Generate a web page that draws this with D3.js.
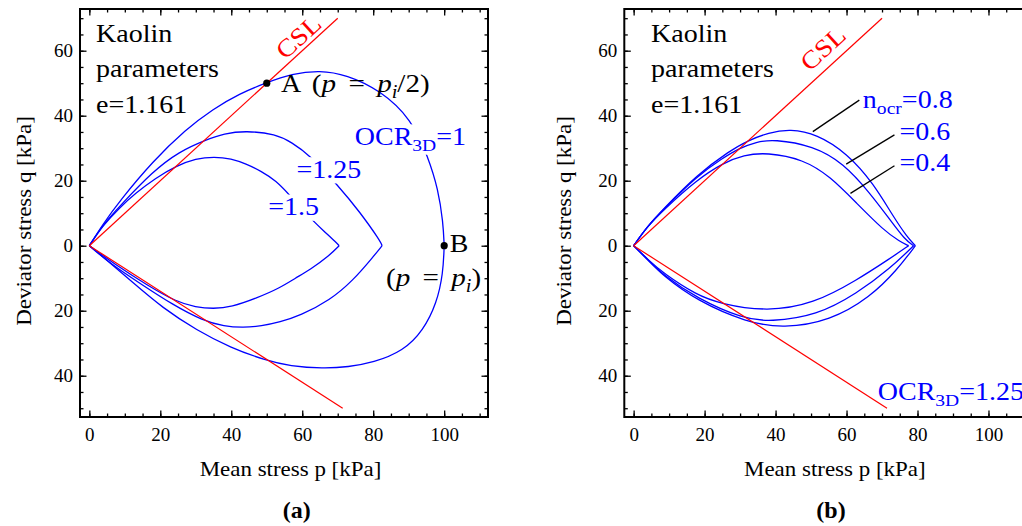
<!DOCTYPE html>
<html>
<head>
<meta charset="utf-8">
<script src="https://cdn.jsdelivr.net/npm/d3@7"></script>
<style>
  body { margin: 0; background: #fff; }
  svg { display: block; }
  text { font-family: "Liberation Serif", "Times New Roman", serif; }
</style>
</head>
<body>
<svg id="chart" width="1022" height="526"></svg>
<script>
// ---- data (p, q in kPa; q < 0 is extension) ----
const pTicks = [0, 20, 40, 60, 80, 100];
const qTicks = [-40, -20, 0, 20, 40, 60];
const pMinorTicks = d3.range(0, 111, 5);
const qMinorTicks = d3.range(-50, 71, 5);

const cslCompression = [[0, 0], [70, 70]];
const cslExtension = [[0, 0], [71.4, -50]];
const pointA = [50, 50];
const pointB = [100, 0];

// panel (a): OCR_3D = 1, 1.25, 1.5
const ocr100Upper = [[0, 0], [3.8, 6.6], [8.5, 13.7], [17.9, 26], [27.2, 35.8], [34.8, 42], [42.3, 46.8], [50, 50.2], [57, 52.9], [65, 54], [72.5, 52.6], [81.9, 47.9], [90.8, 39], [95.5, 27.2], [98.3, 17.4], [99.7, 7.2], [100, 0]];
const ocr100Lower = [[0, 0], [4.9, -4.4], [11.5, -10.6], [20.8, -19.3], [30.3, -26], [39.6, -31.3], [50, -35.4], [56.5, -37], [65.9, -37.8], [73, -37.3], [80, -36], [88.5, -32.4], [94.1, -26.1], [97.9, -17.7], [99.7, -8.5], [100, 0]];
const ocr125Upper = [[0, 0], [3.8, 6.4], [8.5, 12.1], [17.9, 22.9], [25.4, 29], [32.7, 32.5], [38, 34.5], [44.1, 35.4], [52.6, 34.3], [57, 31.8], [62.2, 27.8], [70.1, 18.5], [76.3, 10.3], [81.9, 1.6], [82.5, 0]];
const ocr125Lower = [[0, 0], [5.8, -5.4], [14.3, -11.6], [23.7, -18.3], [32.1, -23.1], [38, -24.8], [43.4, -25.2], [48.5, -24.7], [53.7, -23.5], [59.4, -21.5], [67.8, -16.8], [74.4, -10.6], [80, -3.4], [82.5, 0]];
const ocr150Upper = [[0, 0], [3.8, 6.2], [8.5, 11.7], [13.2, 16.3], [18.5, 20.7], [24.6, 24.6], [30, 26.8], [35.2, 27.4], [40, 26.8], [44.1, 25.2], [48.5, 22.9], [52.6, 20], [56.5, 15.5], [60, 11.2], [63.1, 7.6], [65.9, 4.7], [69.7, 0.9], [70.4, 0]];
const ocr150Lower = [[0, 0], [6.8, -5.4], [16.2, -12.1], [24.6, -17.3], [30, -18.9], [34.9, -19.4], [40, -18.9], [47.2, -16.1], [53.7, -13], [58, -10], [62.2, -7.4], [67.8, -2.9], [70.4, 0]];

// panel (b): OCR_3D = 1.25, n_ocr = 0.8, 0.6, 0.4
const n08Upper = [[0, 0], [3.8, 5.9], [8.4, 11.3], [17.8, 21.8], [27.2, 29.3], [32.3, 32.4], [38, 34.8], [44.1, 35.9], [51.6, 34.4], [60.1, 28.5], [67.6, 19.2], [73.2, 8.9], [77, 2.8], [79.4, 0]];
const n08Lower = [[0, 0], [4.2, -4.6], [8.4, -9.3], [17.8, -16.9], [31.9, -23.6], [42.2, -25.4], [55.4, -23.1], [66.7, -15.8], [74.2, -7.5], [79.4, 0]];
const n06Upper = [[0, 0], [3.8, 5.9], [8.4, 11.2], [17.8, 21.4], [25, 26.9], [30, 30.1], [34.5, 31.9], [39.4, 32.8], [50.7, 30.7], [59.1, 25.4], [66.7, 16.1], [72.3, 7.9], [76.5, 1.8], [78.9, 0]];
const n06Lower = [[0, 0], [4.2, -4.5], [8.4, -9.0], [17.8, -16.2], [30.9, -22.5], [38.4, -23.4], [51.6, -21.5], [62.9, -14.7], [72.3, -7], [78.9, 0]];
const n04Upper = [[0, 0], [3.8, 5.8], [8.4, 11], [17.8, 20.3], [25.3, 25.5], [31, 27.9], [37.5, 28.7], [47.8, 26.6], [55.4, 21.3], [62.9, 13], [70.4, 4.8], [75.1, 1.2], [77.5, 0]];
const n04Lower = [[0, 0], [4.2, -4.4], [8.4, -8.5], [17.8, -15.2], [24.3, -17.8], [37.5, -20.3], [50.7, -17.9], [62.9, -10.6], [72.3, -3.9], [77.5, 0]];

// ---- layout ----
const frameSize = 408;
const pDomain = [-2.63, 112.35];
const qDomain = [-52.7, 72.83];
const annSize = 25;
const stretch = 1.12;
const BLUE = '#0000ff';
const RED = '#ff0000';

const kaolinLines = ['Kaolin', 'parameters', 'e=1.161'];

const panels = [
  {
    id: 'a',
    left: 80,
    top: 9,
    curves: [ocr100Upper, ocr100Lower, ocr125Upper, ocr125Lower, ocr150Upper, ocr150Lower],
    dots: [pointA, pointB],
    leaders: [],
    kaolinAt: 1.9,
    cslLabelAt: [58.9, 64.3],
    yTitleOffset: 49,
    xTitleShift: 6.5,
    letterShift: 12.7,
    labels: [
      { at: [54, 47.4], parts: [{ t: 'A' }] },
      { at: [62.7, 47.4], math: true, parts: [{ t: '(' }, { t: 'p', italic: true }, { t: '=', dx: 11 }, { t: 'p', italic: true, dx: 11 }, { t: 'i', italic: true, sub: true }, { t: '/2)' }] },
      { at: [101.6, -2], parts: [{ t: 'B' }] },
      { at: [83.6, -12.5], math: true, parts: [{ t: '(' }, { t: 'p', italic: true }, { t: '=', dx: 11 }, { t: 'p', italic: true, dx: 11 }, { t: 'i', italic: true, sub: true }, { t: ')' }] },
      { at: [74.8, 31], color: BLUE, knockout: true, parts: [{ t: 'OCR' }, { t: '3D', sub: true }, { t: '=1' }] },
      { at: [58.4, 20.9], color: BLUE, knockout: true, parts: [{ t: '=1.25' }] },
      { at: [50.4, 9.4], color: BLUE, knockout: true, parts: [{ t: '=1.5' }] }
    ]
  },
  {
    id: 'b',
    left: 624.3,
    top: 9,
    curves: [n08Upper, n08Lower, n06Upper, n06Lower, n04Upper, n04Lower],
    dots: [],
    leaders: [[[63.6, 44.8], [50.5, 35.1]], [[73.5, 34.1], [59.9, 25.1]], [[73.5, 24.6], [61.1, 16.1]]],
    kaolinAt: 4.9,
    cslLabelAt: [53.3, 60.7],
    yTitleOffset: 53,
    xTitleShift: 6.5,
    letterShift: 2.7,
    labels: [
      { at: [64.6, 42.3], color: BLUE, parts: [{ t: 'n' }, { t: 'ocr', sub: true }, { t: '=0.8' }] },
      { at: [74.9, 32.5], color: BLUE, parts: [{ t: '=0.6' }] },
      { at: [74.9, 23.1], color: BLUE, parts: [{ t: '=0.4' }] },
      { at: [68.8, -47.4], color: BLUE, parts: [{ t: 'OCR' }, { t: '3D', sub: true }, { t: '=1.25' }] }
    ]
  }
];

const svg = d3.select('#chart');
const defs = svg.append('defs');

function addLabel(g, px, py, parts, opt = {}) {
  const size = opt.size || annSize;
  const holder = g.append('g')
    .attr('transform', `translate(${px},${py}) rotate(${opt.angle || 0}) scale(${stretch},1)`);
  const text = holder.append('text')
    .attr('font-size', size)
    .attr('fill', opt.color || '#000')
    .attr('text-anchor', opt.anchor || 'start');
  if (opt.dy) text.attr('dy', opt.dy);
  let shifted = false;
  parts.forEach(part => {
    const span = text.append('tspan').text(part.t);
    let dy = 0;
    if (part.sub) {
      span.attr('font-size', size * 0.7);
      if (!shifted) dy = 6;
      shifted = true;
    } else if (shifted) {
      dy = -6;
      shifted = false;
    }
    if (dy) span.attr('dy', dy);
    if (part.dx) span.attr('dx', part.dx);
    if (part.italic) span.attr('font-style', 'italic');
  });
  if (opt.knockout) {
    const box = text.node().getBBox();
    holder.insert('rect', 'text')
      .attr('x', box.x - 1).attr('y', box.y + 2)
      .attr('width', box.width + 2).attr('height', box.height - 2)
      .attr('fill', '#fff');
  }
  return holder;
}

function drawFrame(g, x, y) {
  const styleTicks = sel => {
    sel.select('.domain').remove();
    sel.selectAll('line').attr('stroke', '#000').attr('stroke-width', 1.3);
    sel.selectAll('text')
      .attr('font-size', 19)
      .attr('fill', '#000');
    sel.attr('font-family', null).attr('font-size', null);
  };
  const none = () => '';
  const sides = [
    { make: d3.axisBottom(x), at: `translate(0,${frameSize})`, major: pTicks, minor: pMinorTicks, fmt: d3.format('d'), pad: 10.5 },
    { make: d3.axisTop(x), at: 'translate(0,0)', major: pTicks, minor: pMinorTicks, fmt: none, pad: 0 },
    { make: d3.axisLeft(y), at: 'translate(0,0)', major: qTicks, minor: qMinorTicks, fmt: d => Math.abs(d), pad: 7 },
    { make: d3.axisRight(y), at: `translate(${frameSize},0)`, major: qTicks, minor: qMinorTicks, fmt: none, pad: 0 }
  ];
  sides.forEach(side => {
    g.append('g').attr('transform', side.at)
      .call(side.make.tickValues(side.minor).tickSize(-3.5).tickSizeOuter(0).tickFormat(none))
      .call(styleTicks);
    g.append('g').attr('transform', side.at)
      .call(side.make.tickValues(side.major).tickSize(-6.5).tickSizeOuter(0).tickPadding(side.pad).tickFormat(side.fmt))
      .call(styleTicks);
  });
  g.append('rect')
    .attr('width', frameSize).attr('height', frameSize)
    .attr('fill', 'none').attr('stroke', '#000').attr('stroke-width', 2);
}

function drawPanel(panel) {
  const x = d3.scaleLinear().domain(pDomain).range([0, frameSize]);
  const y = d3.scaleLinear().domain(qDomain).range([frameSize, 0]);
  const g = svg.append('g').attr('transform', `translate(${panel.left},${panel.top})`);

  defs.append('clipPath').attr('id', `clip-${panel.id}`)
    .append('rect').attr('width', frameSize).attr('height', frameSize);
  const plot = g.append('g').attr('clip-path', `url(#clip-${panel.id})`);

  const curveLine = d3.line().x(d => x(d[0])).y(d => y(d[1])).curve(d3.curveBasis);
  const straight = d3.line().x(d => x(d[0])).y(d => y(d[1]));

  plot.selectAll('path.yield')
    .data(panel.curves)
    .join('path')
    .attr('class', 'yield')
    .attr('d', curveLine)
    .attr('fill', 'none').attr('stroke', BLUE).attr('stroke-width', 1.3);

  plot.selectAll('path.csl')
    .data([cslCompression, cslExtension])
    .join('path')
    .attr('class', 'csl')
    .attr('d', straight)
    .attr('fill', 'none').attr('stroke', RED).attr('stroke-width', 1.2);

  plot.selectAll('path.leader')
    .data(panel.leaders)
    .join('path')
    .attr('class', 'leader')
    .attr('d', straight)
    .attr('stroke', '#000').attr('stroke-width', 1.3);

  // Kaolin text block
  const kaolinBaselines = [62.77, 51.8, 40.7];
  kaolinLines.forEach((line, i) => {
    addLabel(plot, x(panel.kaolinAt), y(kaolinBaselines[i]), [{ t: line }]);
  });

  // CSL label along the line
  const angle = Math.atan2(y(cslCompression[1][1]) - y(0), x(cslCompression[1][0]) - x(0)) * 180 / Math.PI;
  addLabel(plot, x(panel.cslLabelAt[0]), y(panel.cslLabelAt[1]), [{ t: 'CSL' }],
    { color: RED, angle: angle, anchor: 'middle', dy: '0.35em' });

  panel.labels.forEach(lab => {
    addLabel(plot, x(lab.at[0]), y(lab.at[1]), lab.parts, { color: lab.color, knockout: lab.knockout, size: lab.math ? 26 : annSize });
  });

  plot.selectAll('circle.pt')
    .data(panel.dots)
    .join('circle')
    .attr('class', 'pt')
    .attr('cx', d => x(d[0])).attr('cy', d => y(d[1]))
    .attr('r', 3.6).attr('fill', '#000');

  drawFrame(g, x, y);

  // axis titles
  addLabel(g, frameSize / 2 + panel.xTitleShift, 467.3, [{ t: 'Mean stress p [kPa]' }], { size: 20.5, anchor: 'middle' });
  addLabel(g, -panel.yTitleOffset, 212, [{ t: 'Deviator stress q [kPa]' }], { size: 20.5, anchor: 'middle', angle: -90 });
  g.append('text')
    .attr('x', frameSize / 2 + panel.letterShift).attr('y', 509)
    .attr('text-anchor', 'middle').attr('font-weight', 'bold').attr('font-size', 24)
    .text(`(${panel.id})`);
}

panels.forEach(drawPanel);
</script>
</body>
</html>
